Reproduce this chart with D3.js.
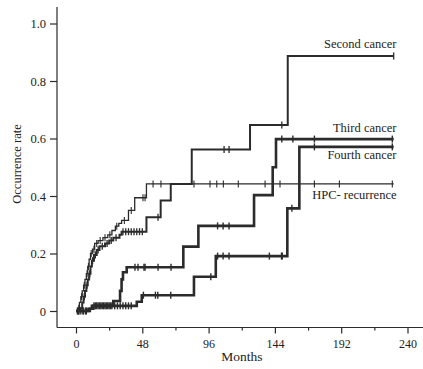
<!DOCTYPE html>
<html>
<head>
<meta charset="utf-8">
<script src="https://cdn.jsdelivr.net/npm/d3@7/dist/d3.min.js"></script>
<style>
  html, body { margin: 0; padding: 0; background: #fff; }
  svg { display: block; }
  text { font-family: "Liberation Serif", "Times New Roman", serif; fill: #222; }
</style>
</head>
<body>
<svg id="chart" width="423" height="369"></svg>
<script>
// ---- data ----
const xTickValues = [0, 48, 96, 144, 192, 240];
const xMinorTicks = [24, 72, 120, 168, 216];
const yTickValues = [0, 0.2, 0.4, 0.6, 0.8, 1.0];
const seriesNames = ["Second cancer", "Third cancer", "Fourth cancer", "HPC- recurrence"];
const followEnd = 230;

const hpcTimes = [0, 1.5, 2.5, 3.5, 4.5, 5.5, 6.5, 7.5, 8.5, 9.5, 10.5, 12, 13.5, 16, 19.5, 23, 26, 28.5, 31, 33, 38, 42.5, 51];
const hpcRates = [0, 0.01, 0.03, 0.05, 0.07, 0.09, 0.11, 0.13, 0.155, 0.18, 0.2, 0.215, 0.235, 0.245, 0.255, 0.265, 0.28, 0.295, 0.305, 0.315, 0.35, 0.394, 0.442];
const hpcCensor = [2, 4, 6, 8, 9, 11, 13, 15, 17.5, 21, 24.5, 29.5, 35, 40, 48.5, 50, 55.8, 61.5, 85.4, 97, 101.9, 106.7, 117.5, 136.9, 147.7, 172.6, 190.7, 229];

const secondTimes = [0, 3, 4.5, 5.5, 6.5, 7.5, 8.5, 9.5, 10.5, 11.5, 13, 15, 17, 21, 24, 27, 31.5, 33, 51, 61.3, 68.6, 83.8, 126, 153.3];
const secondRates = [0, 0.01, 0.03, 0.05, 0.07, 0.09, 0.11, 0.13, 0.155, 0.175, 0.195, 0.212, 0.225, 0.235, 0.245, 0.255, 0.265, 0.276, 0.326, 0.384, 0.442, 0.562, 0.647, 0.887];
const secondCensor = [1, 2, 6, 8, 10, 12, 14, 16, 19, 22.5, 25.5, 29, 34, 36, 38, 40, 42, 44, 46, 48, 59.4, 107.2, 110.8, 149, 230];

const thirdTimes = [0, 9, 11.5, 27, 31.9, 33, 34, 36.7, 77.7, 88.6, 128.9, 142.4, 144.8];
const thirdRates = [0, 0.008, 0.018, 0.035, 0.07, 0.11, 0.135, 0.152, 0.224, 0.296, 0.403, 0.5, 0.598];
const thirdCensor = [2, 5, 7, 13, 15, 17, 19, 21, 23, 25, 42.7, 44.9, 49.2, 50, 59.4, 68.8, 102.5, 106.5, 110.8, 149, 157, 172.6, 229];

const fourthTimes = [0, 10, 12.5, 44, 47.6, 85.4, 101.2, 153, 161.7];
const fourthRates = [0, 0.008, 0.018, 0.032, 0.055, 0.119, 0.191, 0.357, 0.571];
const fourthCensor = [1.5, 3.5, 5.5, 7.5, 14, 16, 18, 20, 22, 24, 26, 28, 30, 32, 34, 36, 38, 40, 48.8, 57.5, 59.2, 68.6, 97.6, 102.5, 106.5, 110.8, 140, 148.8, 149.3, 156.3, 172.6, 229];

// ---- chart ----
const FONT = "'Liberation Serif', 'Times New Roman', serif";
const svg = d3.select("#chart");
const x = d3.scaleLinear().domain([0, 240]).range([76, 407.5]);
const y = d3.scaleLinear().domain([0, 1]).range([311, 23.5]);

const axisX0 = 57, axisY0 = 327.5;
const ink = "#2b2b2b";

// axis lines
svg.append("line").attr("x1", axisX0).attr("x2", axisX0).attr("y1", 7).attr("y2", axisY0)
  .attr("stroke", ink).attr("stroke-width", 1.2);
svg.append("line").attr("x1", axisX0).attr("x2", 423).attr("y1", axisY0).attr("y2", axisY0)
  .attr("stroke", ink).attr("stroke-width", 1.2);

// x ticks
const xAxis = d3.axisBottom(x).tickValues(xTickValues).tickSize(6).tickSizeOuter(0).tickFormat(d3.format("d"));
const gx = svg.append("g").attr("transform", `translate(0,${axisY0})`).call(xAxis).attr("font-family", FONT);
gx.select(".domain").remove();
gx.selectAll(".tick line").attr("stroke", ink).attr("stroke-width", 1.2);
gx.selectAll(".tick text").attr("font-size", 12).attr("font-family", FONT).attr("fill", "#222").attr("dy", "0.95em").attr("y", 9);
const xMinor = d3.axisBottom(x).tickValues(xMinorTicks).tickSize(3).tickSizeOuter(0).tickFormat("");
const gxm = svg.append("g").attr("transform", `translate(0,${axisY0})`).call(xMinor);
gxm.select(".domain").remove();
gxm.selectAll(".tick line").attr("stroke", ink).attr("stroke-width", 1.2);

// y ticks
const yAxis = d3.axisLeft(y).tickValues(yTickValues).tickSize(7).tickSizeOuter(0)
  .tickFormat(d => d === 0 ? "0" : d3.format(".1f")(d));
const gy = svg.append("g").attr("transform", `translate(${axisX0},0)`).call(yAxis).attr("font-family", FONT);
gy.select(".domain").remove();
gy.selectAll(".tick line").attr("stroke", ink).attr("stroke-width", 1.2);
gy.selectAll(".tick text").attr("font-size", 12.5).attr("font-family", FONT).attr("fill", "#222").attr("x", -11);

// axis titles
svg.append("text").attr("x", 242).attr("y", 361).attr("text-anchor", "middle")
  .attr("font-family", FONT).attr("font-size", 13.5).text("Months");
svg.append("text").attr("transform", "translate(21,164) rotate(-90)").attr("text-anchor", "middle")
  .attr("font-family", FONT).attr("font-size", 12.5).text("Occurrence rate");

// curves
const line = d3.line().x(d => x(d[0])).y(d => y(d[1])).curve(d3.curveStepAfter);
function stepAt(times, rates, t) {
  let v = 0;
  for (let i = 0; i < times.length; i++) if (times[i] <= t) v = rates[i];
  return v;
}
const series = [
  { name: seriesNames[3], times: hpcTimes, rates: hpcRates, censor: hpcCensor, w: 1.3, tw: 1.1 },
  { name: seriesNames[0], times: secondTimes, rates: secondRates, censor: secondCensor, w: 2.0, tw: 1.3 },
  { name: seriesNames[1], times: thirdTimes, rates: thirdRates, censor: thirdCensor, w: 2.6, tw: 1.4 },
  { name: seriesNames[2], times: fourthTimes, rates: fourthRates, censor: fourthCensor, w: 2.6, tw: 1.4 }
];
series.forEach(s => {
  const pts = s.times.map((t, i) => [t, s.rates[i]]);
  pts.push([followEnd, s.rates[s.rates.length - 1]]);
  svg.append("path").datum(pts).attr("d", line).attr("fill", "none")
    .attr("stroke", ink).attr("stroke-width", s.w).attr("stroke-linejoin", "miter");
  svg.append("g").selectAll("line").data(s.censor).join("line")
    .attr("x1", d => x(d)).attr("x2", d => x(d))
    .attr("y1", d => y(stepAt(s.times, s.rates, d)) - 3.5)
    .attr("y2", d => y(stepAt(s.times, s.rates, d)) + 3.5)
    .attr("stroke", ink).attr("stroke-width", s.tw);
});

// labels
const labelY = [47.5, 131.5, 159, 199];
seriesNames.forEach((n, i) => {
  svg.append("text").attr("x", 396.5).attr("y", labelY[i]).attr("text-anchor", "end")
    .attr("font-family", FONT).attr("font-size", 12.5).text(n);
});
</script>
</body>
</html>
